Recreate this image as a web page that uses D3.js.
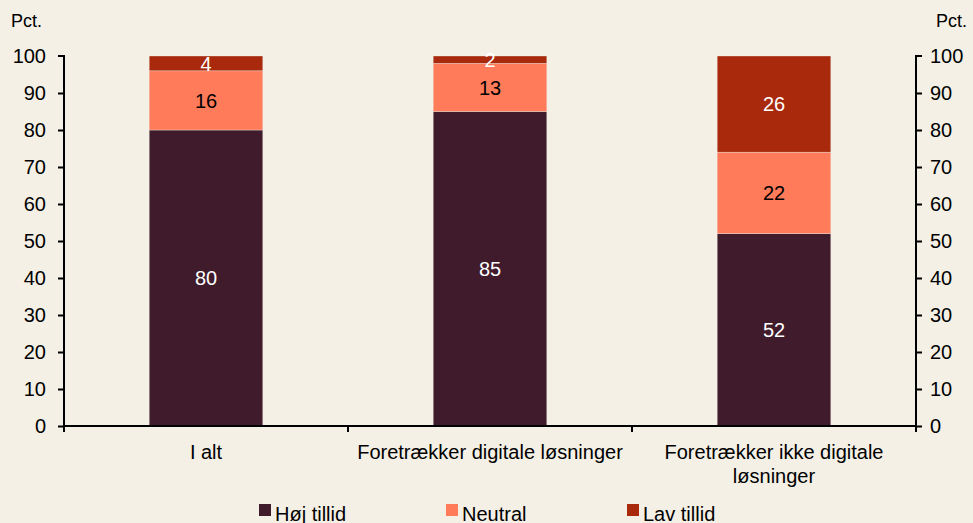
<!DOCTYPE html>
<html>
<head>
<meta charset="utf-8">
<script src="https://cdn.jsdelivr.net/npm/d3@7"></script>
<style>
  body { margin: 0; background: #F4F0E6; }
  svg { display: block; font-family: "Liberation Sans", Arial, sans-serif; }
</style>
</head>
<body>
<div id="chart"></div>
<script>
const categories = ["I alt", "Foretrækker digitale løsninger", "Foretrækker ikke digitale løsninger"]
const seriesNames = ["Høj tillid", "Neutral", "Lav tillid"]
const hoej = [80, 85, 52]
const neutral = [16, 13, 22]
const lav = [4, 2, 26]
const yTicks = [0, 10, 20, 30, 40, 50, 60, 70, 80, 90, 100]

const colors = ["#3F1B2B", "#FF7B5A", "#A8290C"]
const labelColors = ["#ffffff", "#000000", "#ffffff"]

const width = 973, height = 523
const margin = {top: 56, right: 57, bottom: 97, left: 64}

const svg = d3.select("#chart").append("svg")
  .attr("width", width)
  .attr("height", height)

svg.append("rect").attr("width", width).attr("height", height).attr("fill", "#F4F0E6")

const x = d3.scaleBand()
  .domain(categories)
  .range([margin.left, width - margin.right])
  .padding(0)

const y = d3.scaleLinear()
  .domain([0, 100])
  .range([height - margin.bottom, margin.top])

// stack rows
const rows = categories.map((c, i) => ({cat: c, "Høj tillid": hoej[i], "Neutral": neutral[i], "Lav tillid": lav[i]}))
const stacked = d3.stack().keys(seriesNames)(rows)

const barW = x.bandwidth() * 0.4

const layers = svg.append("g").selectAll("g")
  .data(stacked)
  .enter().append("g")
  .attr("fill", (d, i) => colors[i])

layers.selectAll("rect")
  .data(d => d)
  .enter().append("rect")
  .attr("x", d => x(d.data.cat) + (x.bandwidth() - barW) / 2)
  .attr("width", barW)
  .attr("y", d => y(d[1]))
  .attr("height", d => y(d[0]) - y(d[1]))
  .style("stroke", "#F4F0E6")
  .style("stroke-width", 0.6)
  .style("stroke-opacity", 0.6)

// value labels
stacked.forEach((layer, li) => {
  svg.append("g").selectAll("text")
    .data(layer)
    .enter().append("text")
    .attr("x", d => x(d.data.cat) + x.bandwidth() / 2)
    .attr("y", d => (y(d[0]) + y(d[1])) / 2)
    .attr("dy", "0.36em")
    .attr("text-anchor", "middle")
    .attr("fill", labelColors[li])
    .style("font-size", "20px")
    .text(d => d[1] - d[0])
})

// axes
const yLeft = svg.append("g")
  .attr("transform", `translate(${margin.left},0)`)
  .call(d3.axisLeft(y).tickValues(yTicks).tickSize(6).tickPadding(12))
const yRight = svg.append("g")
  .attr("transform", `translate(${width - margin.right},0)`)
  .call(d3.axisRight(y).tickValues(yTicks).tickSize(6).tickPadding(8))

;[yLeft, yRight].forEach(g => {
  g.select(".domain").attr("d", g === yLeft
    ? `M-6,${y(100)}H0V${y(0)}`
    : `M6,${y(100)}H0V${y(0)}`)
    .attr("stroke", "#000").attr("stroke-width", 2)
  g.selectAll(".tick line").attr("stroke-width", 2)
  g.selectAll(".tick text").style("font-size", "20px").attr("fill", "#000")
  g.selectAll(".tick").filter(d => d === 100).select("line").remove()
})

// x axis with ticks at category boundaries
const xAxis = svg.append("g").attr("transform", `translate(0,${y(0)})`)
xAxis.append("line")
  .attr("x1", margin.left).attr("x2", width - margin.right)
  .attr("stroke", "#000").attr("stroke-width", 2)
const bounds = categories.map(c => x(c)).concat([x(categories[categories.length - 1]) + x.bandwidth()])
xAxis.selectAll(".xt").data(bounds).enter().append("line")
  .attr("x1", d => d).attr("x2", d => d)
  .attr("y1", 0).attr("y2", 6)
  .attr("stroke", "#000").attr("stroke-width", 2)

// category labels, wrapped like the original
const catLines = [["I alt"], ["Foretrækker digitale løsninger"], ["Foretrækker ikke digitale", "løsninger"]]
categories.forEach((c, i) => {
  const t = svg.append("text")
    .attr("x", x(c) + x.bandwidth() / 2)
    .attr("y", y(0) + 33)
    .attr("text-anchor", "middle")
    .style("font-size", "20px")
  catLines[i].forEach((ln, j) => {
    t.append("tspan").attr("x", x(c) + x.bandwidth() / 2).attr("dy", j === 0 ? 0 : 24).text(ln)
  })
})

// units
svg.append("text").attr("x", 11).attr("y", 27).style("font-size", "18px").text("Pct.")
svg.append("text").attr("x", width - 6).attr("y", 27).attr("text-anchor", "end").style("font-size", "18px").text("Pct.")

// legend
const legendX = [259, 446, 627]
const legend = svg.append("g").selectAll("g")
  .data(seriesNames)
  .enter().append("g")
  .attr("transform", (d, i) => `translate(${legendX[i]},${height - 16})`)
legend.append("rect").attr("width", 12).attr("height", 12).attr("y", -3).attr("fill", (d, i) => colors[i])
legend.append("text").attr("x", 16).attr("y", 8).attr("dy", "0.3em").style("font-size", "20px").text(d => d)
</script>
</body>
</html>
